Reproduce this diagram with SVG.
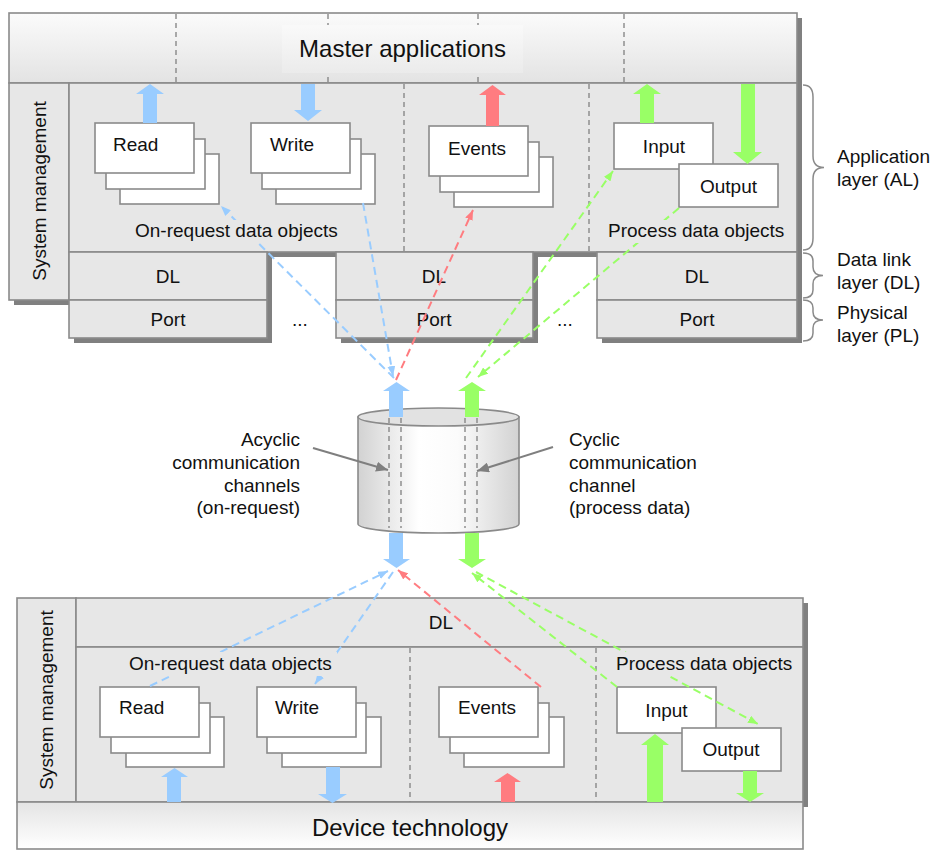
<svg xmlns="http://www.w3.org/2000/svg" width="932" height="850" viewBox="0 0 932 850">
<style>
text{font-family:"Liberation Sans",Arial,sans-serif;font-size:19px;fill:#111}
.big{font-size:24px}
.box{fill:#e7e7e7;stroke:#8a8a8a;stroke-width:1.6}
.wbox{fill:#fff;stroke:#8a8a8a;stroke-width:1.6}
.sh{fill:#808080}
.vd{stroke:#808080;stroke-width:1.3;stroke-dasharray:5 4;fill:none}
.bl{fill:#99ccff}.rd{fill:#ff7c80}.gr{fill:#99ff66}
.c{fill:none;stroke-width:2;stroke-dasharray:8 5}
.cb{stroke:#99ccff}.cr{stroke:#ff7c80}.cg{stroke:#99ff66}
.brace{fill:none;stroke:#8a8a8a;stroke-width:1.5}
.mid{text-anchor:middle}
.lbg{fill:#e7e7e7}
</style>
<defs>
<linearGradient id="gMaster" gradientUnits="userSpaceOnUse" x1="0" y1="13" x2="0" y2="83"><stop offset="0" stop-color="#fbfbfb"/><stop offset="1" stop-color="#e3e3e3"/></linearGradient>
<linearGradient id="gMasterT" gradientUnits="userSpaceOnUse" x1="0" y1="13" x2="0" y2="83"><stop offset="0" stop-color="#fdfdfd"/><stop offset="1" stop-color="#e8e8e8"/></linearGradient>
<linearGradient id="gDev" x1="0" y1="0" x2="0" y2="1"><stop offset="0" stop-color="#e4e4e4"/><stop offset="1" stop-color="#ffffff"/></linearGradient>
<linearGradient id="gCyl" x1="0" y1="0" x2="1" y2="0"><stop offset="0" stop-color="#d2d2d2"/><stop offset="0.38" stop-color="#ffffff"/><stop offset="0.62" stop-color="#fbfbfb"/><stop offset="1" stop-color="#d2d2d2"/></linearGradient>
<marker id="mb" markerUnits="userSpaceOnUse" markerWidth="10" markerHeight="8" refX="10" refY="4" orient="auto"><path d="M0,0 L10,4 L0,8 z" fill="#99ccff"/></marker>
<marker id="mr" markerUnits="userSpaceOnUse" markerWidth="10" markerHeight="8" refX="10" refY="4" orient="auto"><path d="M0,0 L10,4 L0,8 z" fill="#ff7c80"/></marker>
<marker id="mg" markerUnits="userSpaceOnUse" markerWidth="10" markerHeight="8" refX="10" refY="4" orient="auto"><path d="M0,0 L10,4 L0,8 z" fill="#99ff66"/></marker>
<marker id="mk" markerUnits="userSpaceOnUse" markerWidth="12" markerHeight="10" refX="12" refY="5" orient="auto"><path d="M0,0 L12,5 L0,10 z" fill="#7f7f7f"/></marker>
</defs>

<!-- shadows -->
<g id="shadows">
<rect class="sh" x="14" y="18" width="788" height="239"/>
<rect class="sh" x="14" y="88" width="60" height="217"/>
<rect class="sh" x="74" y="257" width="198" height="86"/>
<rect class="sh" x="341" y="257" width="197" height="86"/>
<rect class="sh" x="602" y="257" width="200" height="86"/>
<rect class="sh" x="22" y="603" width="786" height="204"/>
</g>

<g id="master">
<rect x="9" y="13" width="788" height="70" fill="url(#gMaster)" stroke="#8a8a8a" stroke-width="1.6"/>
<line class="vd" x1="176" y1="14" x2="176" y2="83"/>
<line class="vd" x1="328" y1="14" x2="328" y2="83"/>
<line class="vd" x1="478" y1="14" x2="478" y2="83"/>
<line class="vd" x1="624" y1="14" x2="624" y2="83"/>
<rect x="282" y="25" width="241" height="48" fill="url(#gMasterT)"/>
<text class="big mid" x="402.5" y="57">Master applications</text>
</g>

<g id="master-sysmgmt">
<rect class="box" x="9" y="83" width="60" height="217"/>
<text class="mid" transform="translate(46,191) rotate(-90)">System management</text>
</g>

<g id="master-al">
<rect class="box" x="69" y="83" width="728" height="169"/>
<line class="vd" x1="404" y1="84" x2="404" y2="252"/>
<line class="vd" x1="589" y1="84" x2="589" y2="252"/>
</g>

<g id="m-dl1"><rect class="box" x="69" y="252" width="198" height="48"/><text class="mid" x="168" y="283">DL</text></g>
<g id="m-port1"><rect class="box" x="69" y="300" width="198" height="38"/><text class="mid" x="168" y="326">Port</text></g>
<g id="m-dl2"><rect class="box" x="336" y="252" width="197" height="48"/><text class="mid" x="434" y="283">DL</text></g>
<g id="m-port2"><rect class="box" x="336" y="300" width="197" height="38"/><text class="mid" x="434" y="326">Port</text></g>
<g id="m-dl3"><rect class="box" x="597" y="252" width="200" height="48"/><text class="mid" x="697" y="283">DL</text></g>
<g id="m-port3"><rect class="box" x="597" y="300" width="200" height="38"/><text class="mid" x="697" y="326">Port</text></g>
<g id="dots"><text x="292" y="326">...</text><text x="557" y="326">...</text></g>

<g id="m-read">
<rect class="wbox" x="120" y="154" width="99" height="50"/>
<rect class="wbox" x="106" y="139" width="99" height="50"/>
<rect class="wbox" x="95" y="123" width="99" height="50"/>
<text x="113" y="151">Read</text>
</g>
<g id="m-write">
<rect class="wbox" x="276" y="154" width="99" height="50"/>
<rect class="wbox" x="262" y="139" width="99" height="50"/>
<rect class="wbox" x="251" y="123" width="99" height="50"/>
<text x="270" y="151">Write</text>
</g>
<g id="m-events">
<rect class="wbox" x="454" y="157" width="99" height="50"/>
<rect class="wbox" x="440" y="142" width="99" height="50"/>
<rect class="wbox" x="429" y="126" width="99" height="50"/>
<text x="448" y="155">Events</text>
</g>
<g id="m-input"><rect class="wbox" x="614" y="123" width="99" height="46"/><text class="mid" x="664" y="153">Input</text></g>
<g id="m-output"><rect class="wbox" x="679" y="164" width="99" height="43"/><text class="mid" x="728.5" y="193">Output</text></g>

<!-- braces -->
<g id="brace-al"><path class="brace" d="M803,85 Q813,85 813,97 L813,156 Q813,167.5 824,167.5 Q813,167.5 813,179 L813,238 Q813,250 803,250"/><text x="837" y="163">Application</text><text x="837" y="186">layer (AL)</text></g>
<g id="brace-dl"><path class="brace" d="M803,253 Q813,253 813,261 L813,267 Q813,275.5 823,275.5 Q813,275.5 813,284 L813,290 Q813,298 803,298"/><text x="837" y="266">Data link</text><text x="837" y="289">layer (DL)</text></g>
<g id="brace-pl"><path class="brace" d="M803,300 Q813,300 813,308 L813,312 Q813,320 823,320 Q813,320 813,328 L813,333 Q813,341 803,341"/><text x="837" y="319">Physical</text><text x="837" y="342">layer (PL)</text></g>

<!-- cylinder -->
<g id="channel">
<path d="M358,417 L358,524 A80.5,9 0 0 0 519,524 L519,417 Z" fill="url(#gCyl)" stroke="#8a8a8a" stroke-width="1.6"/>
<ellipse cx="438.5" cy="417" rx="80.5" ry="9" fill="#e2e2e2" stroke="#8a8a8a" stroke-width="1.6"/>
<line class="vd" x1="389" y1="418" x2="389" y2="528"/>
<line class="vd" x1="401" y1="418" x2="401" y2="528"/>
<line class="vd" x1="465" y1="418" x2="465" y2="528"/>
<line class="vd" x1="477" y1="418" x2="477" y2="528"/>
</g>

<g id="label-acyclic">
<text x="300" y="446" text-anchor="end">Acyclic</text>
<text x="300" y="469" text-anchor="end">communication</text>
<text x="300" y="492" text-anchor="end">channels</text>
<text x="300" y="514" text-anchor="end">(on-request)</text>
</g>
<g id="label-cyclic">
<text x="569" y="446">Cyclic</text>
<text x="569" y="469">communication</text>
<text x="569" y="492">channel</text>
<text x="569" y="514">(process data)</text>
</g>

<!-- device -->
<g id="dev-sysmgmt">
<rect class="box" x="17" y="598" width="59" height="204"/>
<text class="mid" transform="translate(53,700) rotate(-90)">System management</text>
</g>
<g id="dev-dl"><rect class="box" x="76" y="598" width="727" height="49"/><text class="mid" x="441" y="629">DL</text></g>
<g id="dev-al">
<rect class="box" x="76" y="647" width="727" height="155"/>
<line class="vd" x1="410" y1="648" x2="410" y2="802"/>
<line class="vd" x1="596" y1="648" x2="596" y2="802"/>
</g>
<g id="dev-tech"><rect x="17" y="802" width="786" height="47" fill="url(#gDev)" stroke="#8a8a8a" stroke-width="1.6"/><text class="big mid" x="410" y="836">Device technology</text></g>

<g id="d-read">
<rect class="wbox" x="126" y="717" width="98" height="50"/>
<rect class="wbox" x="111" y="703" width="99" height="50"/>
<rect class="wbox" x="100" y="687" width="99" height="50"/>
<text x="119" y="714">Read</text>
</g>
<g id="d-write">
<rect class="wbox" x="282" y="717" width="99" height="50"/>
<rect class="wbox" x="267" y="703" width="99" height="50"/>
<rect class="wbox" x="257" y="687" width="99" height="50"/>
<text x="275" y="714">Write</text>
</g>
<g id="d-events">
<rect class="wbox" x="464" y="717" width="100" height="50"/>
<rect class="wbox" x="450" y="703" width="99" height="50"/>
<rect class="wbox" x="439" y="687" width="99" height="50"/>
<text x="458" y="714">Events</text>
</g>
<g id="d-input"><rect class="wbox" x="617" y="687" width="99" height="46"/><text class="mid" x="666.5" y="717">Input</text></g>
<g id="d-output"><rect class="wbox" x="682" y="728" width="99" height="43"/><text class="mid" x="731" y="756">Output</text></g>

<!-- block arrows -->
<g id="block-arrows">
<polygon class="bl" points="150,84 164,94 157,94 157,123 143,123 143,94 136,94"/>
<polygon class="bl" points="301,84 315,84 315,110 322,110 308,121 294,110 301,110"/>
<polygon class="rd" points="492.5,85 506,95 499,95 499,126 486,126 486,95 479,95"/>
<polygon class="gr" points="647,84 661,94 654,94 654,123 640,123 640,94 633,94"/>
<polygon class="gr" points="741,84 755,84 755,152 762,152 747.5,164 733,152 741,152"/>
<polygon class="bl" points="396.5,382 410,391 403,391 403,417 389,417 389,391 383,391"/>
<polygon class="gr" points="472,382 486,391 479,391 479,417 465,417 465,391 458,391"/>
<polygon class="bl" points="389,533 403,533 403,559 410,559 396.5,568 383,559 389,559"/>
<polygon class="gr" points="465,533 479,533 479,559 486,559 472,568 458,559 465,559"/>
<polygon class="bl" points="174.5,768 188,777 181,777 181,802 167,802 167,777 161,777"/>
<polygon class="bl" points="326,767 340,767 340,794 347,794 332.5,803 318,794 326,794"/>
<polygon class="rd" points="507.5,773 521,782 515,782 515,802 501,802 501,782 494,782"/>
<polygon class="gr" points="655,734 669,745 663,745 663,802 647,802 647,745 641,745"/>
<polygon class="gr" points="743,771 757,771 757,793 764,793 750,802 736,793 743,793"/>
</g>

<g id="connectors">
<line class="c cb" x1="394" y1="378" x2="221" y2="206" marker-end="url(#mb)"/>
<line class="c cb" x1="363" y1="203" x2="393" y2="376" marker-end="url(#mb)"/>
<line class="c cr" x1="396" y1="380" x2="473" y2="210" marker-end="url(#mr)"/>
<line class="c cg" x1="466" y1="378" x2="613" y2="171" marker-end="url(#mg)"/>
<line class="c cg" x1="679" y1="208" x2="478" y2="377" marker-end="url(#mg)"/>
<line class="c cb" x1="150" y1="686" x2="388" y2="571" marker-end="url(#mb)"/>
<line class="c cb" x1="393" y1="572" x2="315" y2="684" marker-end="url(#mb)"/>
<line class="c cr" x1="541" y1="687" x2="398" y2="570" marker-end="url(#mr)"/>
<line class="c cg" x1="617" y1="687" x2="472" y2="573" marker-end="url(#mg)"/>
<line class="c cg" x1="476" y1="572" x2="758" y2="724" marker-end="url(#mg)"/>
<line stroke="#7f7f7f" stroke-width="2" x1="313" y1="448" x2="388" y2="470" marker-end="url(#mk)"/>
<line stroke="#7f7f7f" stroke-width="2" x1="553" y1="447" x2="477" y2="471" marker-end="url(#mk)"/>
</g>

<g id="label-m-onrequest"><rect class="lbg" x="133" y="220" width="210" height="23"/><text x="135" y="237">On-request data objects</text></g>
<g id="label-m-process"><rect class="lbg" x="606" y="220" width="182" height="23"/><text x="608" y="237">Process data objects</text></g>
<g id="label-d-onrequest"><rect class="lbg" x="127" y="652" width="210" height="24"/><text x="129" y="670">On-request data objects</text></g>
<g id="label-d-process"><rect class="lbg" x="614" y="652" width="182" height="24"/><text x="616" y="670">Process data objects</text></g>
</svg>
